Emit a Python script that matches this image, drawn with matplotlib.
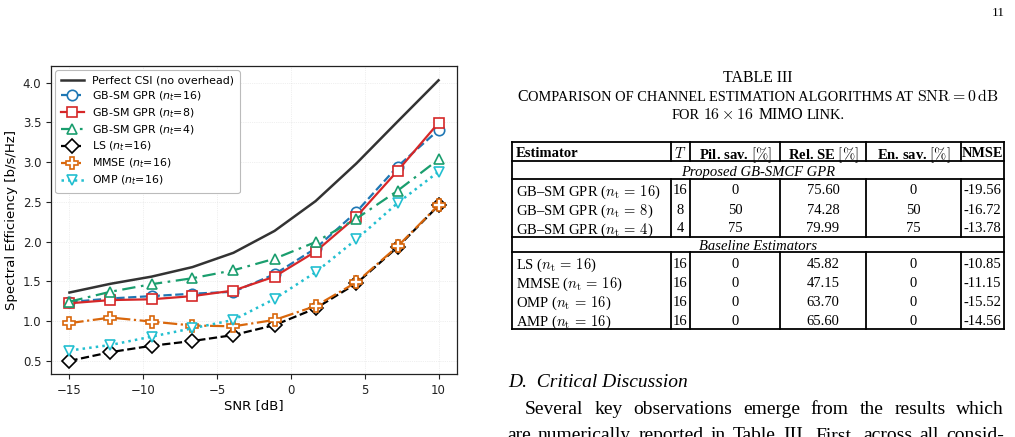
import matplotlib
matplotlib.use("Agg")
import matplotlib.pyplot as plt

# ---------------- chart data ----------------
snr_db = [-15, -12.22, -9.44, -6.67, -3.89, -1.11, 1.67, 4.44, 7.22, 10]
se_perfect = [1.36, 1.47, 1.56, 1.68, 1.86, 2.135, 2.51, 2.985, 3.51, 4.03]
se_gpr16 = [1.24, 1.285, 1.315, 1.345, 1.37, 1.59, 1.915, 2.375, 2.945, 3.405]
se_gpr8 = [1.225, 1.265, 1.275, 1.315, 1.385, 1.56, 1.875, 2.315, 2.89, 3.495]
se_gpr4 = [1.245, 1.37, 1.465, 1.54, 1.64, 1.785, 1.995, 2.29, 2.64, 3.035]
se_ls = [0.50, 0.61, 0.69, 0.75, 0.825, 0.95, 1.16, 1.475, 1.93, 2.455]
se_mmse = [0.975, 1.045, 0.995, 0.945, 0.935, 1.015, 1.19, 1.49, 1.94, 2.46]
se_omp = [0.63, 0.70, 0.805, 0.91, 1.015, 1.28, 1.615, 2.03, 2.485, 2.88]

series_labels = ["Perfect CSI (no overhead)", r"GB-SM GPR ($n_t$=16)", r"GB-SM GPR ($n_t$=8)",
                 r"GB-SM GPR ($n_t$=4)", r"LS ($n_t$=16)", r"MMSE ($n_t$=16)", r"OMP ($n_t$=16)"]

# ---------------- table data ----------------
tbl_header = ["Estimator", "$T$", r"Pil. sav. $[\%]$", r"Rel. SE $[\%]$", r"En. sav. $[\%]$", "NMSE"]
group_titles = ["Proposed GB-SMCF GPR", "Baseline Estimators"]
prop_est = [r"GB–SM GPR ($n_\mathrm{t}\,=\,16$)", r"GB–SM GPR ($n_\mathrm{t}\,=\,8$)", r"GB–SM GPR ($n_\mathrm{t}\,=\,4$)"]
prop_T = ["16", "8", "4"]
prop_pil = ["0", "50", "75"]
prop_rel = ["75.60", "74.28", "79.99"]
prop_en = ["0", "50", "75"]
prop_nmse = ["-19.56", "-16.72", "-13.78"]
base_est = [r"LS ($n_\mathrm{t}\,=\,16$)", r"MMSE ($n_\mathrm{t}\,=\,16$)", r"OMP ($n_\mathrm{t}\,=\,16$)", r"AMP ($n_\mathrm{t}\,=\,16$)"]
base_T = ["16", "16", "16", "16"]
base_pil = ["0", "0", "0", "0"]
base_rel = ["45.82", "47.15", "63.70", "65.60"]
base_en = ["0", "0", "0", "0"]
base_nmse = ["-10.85", "-11.15", "-15.52", "-14.56"]

W, H = 1015, 437
fig = plt.figure(figsize=(W / 100, H / 100), dpi=100)
fig.patch.set_facecolor("white")

# ---------------- chart ----------------
ax = fig.add_axes([51 / W, 1 - 374 / H, (457 - 51) / W, (374 - 66) / H])
ms = 7.5
mew = 1.2
lw = 1.6
ax.plot(snr_db, se_perfect, color="#333333", lw=lw + 0.2, label=series_labels[0])
ax.plot(snr_db, se_gpr16, color="#1f77b4", ls="--", lw=lw, marker="o", ms=ms, mfc="white", mew=mew, label=series_labels[1])
ax.plot(snr_db, se_gpr8, color="#d62728", ls="-", lw=lw, marker="s", ms=ms, mfc="white", mew=mew, label=series_labels[2])
ax.plot(snr_db, se_gpr4, color="#1a9e6e", ls="-.", lw=lw, marker="^", ms=ms, mfc="white", mew=mew, dashes=(6, 2.5, 1.2, 2.5), label=series_labels[3])
ax.plot(snr_db, se_ls, color="black", ls="--", lw=lw, marker="D", ms=ms - 0.5, mfc="white", mew=mew, label=series_labels[4])
ax.plot(snr_db, se_mmse, color="#d9670c", ls="-.", lw=lw, marker="P", ms=ms + 0.5, mfc="white", mew=mew, label=series_labels[5])
ax.plot(snr_db, se_omp, color="#22bfd0", ls=":", lw=lw + 0.2, marker="v", ms=ms, mfc="white", mew=mew, label=series_labels[6])

ax.set_xlim(-16.25, 11.25)
ax.set_ylim(0.335, 4.21)
ax.set_xticks([-15, -10, -5, 0, 5, 10])
ax.set_yticks([0.5, 1.0, 1.5, 2.0, 2.5, 3.0, 3.5, 4.0])
ax.tick_params(labelsize=8.5, length=3.5, width=0.8, colors="#222222")
ax.grid(True, color="#cccccc", lw=0.5, ls=":", alpha=0.6)
for s in ax.spines.values():
    s.set_color("#222222")
    s.set_linewidth(0.9)
ax.set_xlabel("SNR [dB]", fontsize=9.5, labelpad=2)
ax.set_ylabel("Spectral Efficiency [b/s/Hz]", fontsize=9.5, labelpad=3)
leg = ax.legend(loc="upper left", fontsize=7.9, labelspacing=0.3, handlelength=2.1,
                handletextpad=0.75, borderpad=0.5, framealpha=1.0, edgecolor="#bbbbbb",
                bbox_to_anchor=(0.0, 1.0), borderaxespad=0.4)
leg.get_frame().set_linewidth(0.8)

# ---------------- overlay in pixel coordinates ----------------
ov = fig.add_axes([0, 0, 1, 1])
ov.set_xlim(0, W)
ov.set_ylim(H, 0)
ov.axis("off")
ov.patch.set_alpha(0)

serif = "Liberation Serif"
renderer = fig.canvas.get_renderer()


def place_runs(runs, cx, y):
    """runs: (text, size, kwargs, gap_px_before)"""
    objs, widths, gaps = [], [], []
    for txt, size, kw, gap in runs:
        t = ov.text(0, y, txt, fontsize=size, va="baseline", ha="left", family=serif,
                    math_fontfamily="cm", color="black", **kw)
        widths.append(t.get_window_extent(renderer).width)
        objs.append(t)
        gaps.append(gap)
    total = sum(widths) + sum(gaps)
    x = cx - total / 2
    for t, w, g in zip(objs, widths, gaps):
        x += g
        t.set_x(x)
        x += w


def justify(words, left, right, y, size, **kw):
    objs, widths = [], []
    for wd in words:
        t = ov.text(0, y, wd, fontsize=size, va="baseline", ha="left", family=serif, color="black", **kw)
        widths.append(t.get_window_extent(renderer).width)
        objs.append(t)
    gap = (right - left - sum(widths)) / (len(words) - 1)
    x = left
    for t, w in zip(objs, widths):
        t.set_x(x)
        x += w + gap


# page number
ov.text(1005, 16, "11", fontsize=9.5, family=serif, ha="right", va="baseline")

# caption
cx = 758
big = 11.4
sc = 10.4
sp_big = big * 100 / 72 * 0.25
sp_sc = sc * 100 / 72 * 0.25
place_runs([("TABLE III", big, {}, 0)], cx, 82)
place_runs([("C", big, {}, 0), ("OMPARISON OF CHANNEL ESTIMATION ALGORITHMS AT", sc, {}, 0),
            (r"$\mathrm{SNR}=0\,\mathrm{dB}$", big, {}, sp_big)], cx, 101)
place_runs([("FOR", sc, {}, 0), (r"$16\times16$", big, {}, sp_big), ("MIMO", big, {}, sp_big),
            ("LINK.", sc, {}, sp_sc)], cx, 119)

# table geometry (pixels)
col_x = [512, 671, 690, 780, 866, 961, 1004]
y_top, y_head, y_g1, y_g1end, y_g2, y_bot = 142, 161, 179, 236.5, 252, 329
tlw = 1.3
for yy in [y_top, y_head, y_g1, y_g1end, y_g2, y_bot]:
    ov.plot([col_x[0], col_x[-1]], [yy, yy], color="black", lw=tlw, solid_capstyle="projecting")
for xx in [col_x[0], col_x[-1]]:
    ov.plot([xx, xx], [y_top, y_bot], color="black", lw=tlw)
for xx in col_x[1:-1]:
    for (a, b) in [(y_top, y_head), (y_g1, y_g1end), (y_g2, y_bot)]:
        ov.plot([xx, xx], [a, b], color="black", lw=tlw)

tsize = 10.5
centers = [(col_x[i] + col_x[i + 1]) / 2 for i in range(len(col_x) - 1)]


def cell(text, col, yc, size=tsize, **kw):
    if col == 0:
        ov.text(col_x[0] + 4, yc, text, fontsize=size, family=serif, math_fontfamily="cm",
                ha="left", va="center_baseline", **kw)
    else:
        ov.text(centers[col], yc, text, fontsize=size, family=serif, math_fontfamily="cm",
                ha="center", va="center_baseline", **kw)


for i, h in enumerate(tbl_header):
    cell(h, i, 152, size=(10.3 if i == len(tbl_header) - 1 else tsize), fontweight="bold")
ov.text((col_x[0] + col_x[-1]) / 2, 171, group_titles[0], fontsize=tsize, family=serif,
        style="italic", ha="center", va="center_baseline")
ov.text((col_x[0] + col_x[-1]) / 2, 245, group_titles[1], fontsize=tsize, family=serif,
        style="italic", ha="center", va="center_baseline")

prop_y = [189.5, 208.5, 227.5]
for r in range(3):
    vals = [prop_est[r], prop_T[r], prop_pil[r], prop_rel[r], prop_en[r], prop_nmse[r]]
    for c, v in enumerate(vals):
        cell(v, c, prop_y[r])
base_y = [263, 282, 301, 320]
for r in range(4):
    vals = [base_est[r], base_T[r], base_pil[r], base_rel[r], base_en[r], base_nmse[r]]
    for c, v in enumerate(vals):
        cell(v, c, base_y[r])

# body text
ov.text(508, 387, "D.  Critical Discussion", fontsize=14, family=serif, style="italic",
        ha="left", va="baseline")
justify("Several key observations emerge from the results which".split(), 525, 1004, 414, 14)
justify("are numerically reported in Table III. First, across all consid-".split(), 507, 1004, 440, 14)

fig.savefig("out.png", dpi=100)
